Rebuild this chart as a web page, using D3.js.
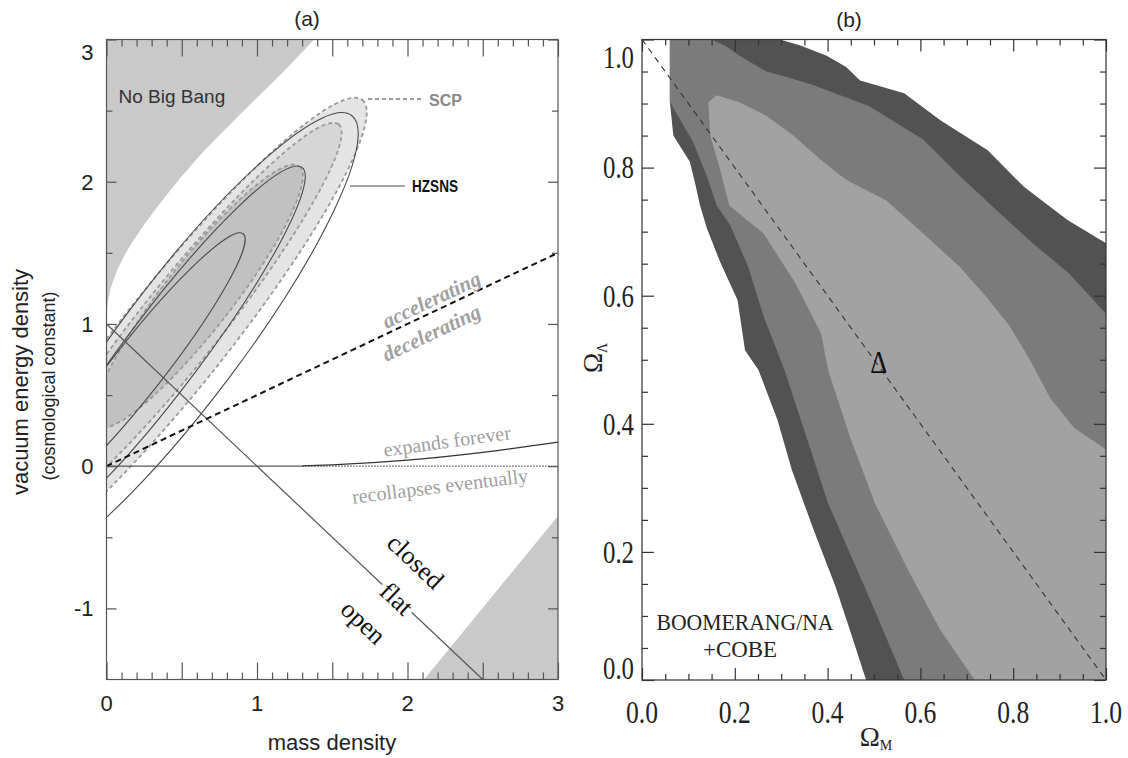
<!DOCTYPE html>
<html>
<head>
<meta charset="utf-8">
<script src="https://cdn.jsdelivr.net/npm/d3@7"></script>
<style>
  body { margin: 0; background: #fff; }
</style>
</head>
<body>
<script>
// ---- panel (a): supernova constraints ----
var aXTicks = [0, 1, 2, 3];
var aYTicks = [-1, 0, 1, 2, 3];
var noBigBang = [[0, 1.08], [0.02, 1.21], [0.05, 1.32], [0.1, 1.44], [0.2, 1.62], [0.3, 1.77],
                 [0.44, 1.96], [0.6, 2.16], [0.8, 2.38], [1.0, 2.59], [1.2, 2.8], [1.38, 3.0]];
var recollapseZone = [[2.11, -1.5], [3, -0.35], [3, -1.5]];
var flatLine = [[0, 1], [2.5, -1.5]];
var accelLine = [[0, 0], [3, 1.5]];
var zeroSolid = [[0, 0], [1.3, 0]];
var zeroDotted = [[1.3, 0], [3, 0]];
var expandCurve = [[1.3, 0.002], [1.5, 0.009], [2.0, 0.042], [2.5, 0.097], [3.0, 0.169]];
// contours: [centre x, centre y, tip x, tip y, half width]
var scpContours = [[0.459, 0.924, 1.700, 2.575, 0.346],
                   [0.488, 1.001, 1.542, 2.404, 0.266],
                   [0.607, 1.193, 1.282, 2.108, 0.226]];
var hzsnsContours = [[0.488, 0.864, 1.629, 2.466, 0.399],
                     [0.379, 0.807, 1.299, 2.101, 0.252],
                     [0.212, 0.693, 0.908, 1.634, 0.173]];

// ---- panel (b): BOOMERANG ----
var bTicks = [0.0, 0.2, 0.4, 0.6, 0.8, 1.0];
var bOuter = [[0.06, 1.0], [0.297, 1.0], [0.34, 0.991], [0.397, 0.975], [0.44, 0.957], [0.47, 0.936],
              [0.565, 0.916], [0.643, 0.874], [0.745, 0.827], [0.823, 0.77], [0.917, 0.718], [1.0, 0.682],
              [1.0, 0.0], [0.483, 0.0], [0.448, 0.078], [0.417, 0.146], [0.37, 0.234], [0.323, 0.328],
              [0.292, 0.406], [0.251, 0.484], [0.222, 0.515], [0.206, 0.593], [0.167, 0.655], [0.14, 0.705],
              [0.125, 0.741], [0.114, 0.777], [0.103, 0.809], [0.0675, 0.85], [0.06, 0.903]];
var bMiddle = [[0.06, 1.0], [0.15, 1.0], [0.18, 0.99], [0.21, 0.975], [0.268, 0.95], [0.319, 0.94],
               [0.369, 0.929], [0.427, 0.913], [0.489, 0.896], [0.606, 0.844], [0.685, 0.787], [0.763, 0.734],
               [0.842, 0.682], [0.92, 0.635], [1.0, 0.572], [1.0, 0.0], [0.565, 0.0], [0.495, 0.12],
               [0.448, 0.198], [0.401, 0.276], [0.354, 0.38], [0.307, 0.484], [0.262, 0.568], [0.229, 0.645],
               [0.19, 0.71], [0.161, 0.741], [0.139, 0.788], [0.11, 0.84], [0.06, 0.903]];
var bInner = [[0.161, 0.913], [0.21, 0.902], [0.268, 0.881], [0.326, 0.85], [0.384, 0.813], [0.427, 0.788],
              [0.45, 0.777], [0.526, 0.749], [0.606, 0.697], [0.685, 0.645], [0.74, 0.6], [0.79, 0.555],
              [0.836, 0.5], [0.88, 0.44], [0.931, 0.394], [1.0, 0.36], [1.0, 0.0], [0.717, 0.0],
              [0.643, 0.078], [0.573, 0.172], [0.502, 0.276], [0.448, 0.38], [0.401, 0.484], [0.386, 0.541],
              [0.331, 0.619], [0.262, 0.697], [0.188, 0.741], [0.168, 0.798], [0.147, 0.85], [0.143, 0.902]];
var bFlat = [[0, 1], [1, 0]];
var bBest = [0.51, 0.497];

var sans = "'Liberation Sans', Arial, Helvetica, sans-serif";
var serif = "'Liberation Serif', 'Times New Roman', serif";

var svg = d3.select("body").append("svg")
            .attr("width", 1128)
            .attr("height", 758);

// ================= panel (a) =================
var xa = d3.scaleLinear().domain([0, 3]).range([106.5, 558]);
var ya = d3.scaleLinear().domain([-1.5, 3]).range([679.5, 39.5]);
var lineA = d3.line().x(function(d) { return xa(d[0]); }).y(function(d) { return ya(d[1]); });

svg.append("clipPath").attr("id", "clipA")
   .append("rect")
   .attr("x", xa(0)).attr("y", ya(3))
   .attr("width", xa(3) - xa(0)).attr("height", ya(-1.5) - ya(3));

var ga = svg.append("g").attr("clip-path", "url(#clipA)");

// forbidden / recollapse shaded zones
ga.append("path")
  .attr("d", lineA.curve(d3.curveMonotoneX)(noBigBang) + "L" + xa(0) + "," + ya(3) + "Z")
  .attr("fill", "#c9c9c9");
lineA.curve(d3.curveLinear);
ga.append("path")
  .attr("d", lineA(recollapseZone) + "Z")
  .attr("fill", "#c9c9c9");

function drawContour(g, e) {
  var cx = xa(e[0]), cy = ya(e[1]), tx = xa(e[2]), ty = ya(e[3]);
  var ang = Math.atan2(ty - cy, tx - cx) * 180 / Math.PI;
  return g.append("ellipse")
          .attr("cx", cx).attr("cy", cy)
          .attr("rx", Math.hypot(tx - cx, ty - cy))
          .attr("ry", xa(e[4]) - xa(0))
          .attr("transform", "rotate(" + ang + "," + cx + "," + cy + ")");
}

var scpFills = ["#e4e4e4", "#d6d6d6", "#c1c1c1"];
scpContours.forEach(function(e, i) {
  drawContour(ga, e)
    .attr("fill", scpFills[i])
    .attr("stroke", "#9a9a9a")
    .attr("stroke-width", 1.8)
    .attr("stroke-dasharray", "4,3");
});
hzsnsContours.forEach(function(e) {
  drawContour(ga, e)
    .attr("fill", "none")
    .attr("stroke", "#4a4a4a")
    .attr("stroke-width", 1.1);
});

// reference lines
ga.append("path").attr("d", lineA(flatLine))
  .attr("fill", "none").attr("stroke", "#555").attr("stroke-width", 1.2);
ga.append("path").attr("d", lineA(zeroSolid))
  .attr("fill", "none").attr("stroke", "#555").attr("stroke-width", 1.2);
ga.append("path").attr("d", lineA(zeroDotted))
  .attr("fill", "none").attr("stroke", "#555").attr("stroke-width", 1.2)
  .attr("stroke-dasharray", "1.5,1.5");
ga.append("path").attr("d", lineA.curve(d3.curveMonotoneX)(expandCurve))
  .attr("fill", "none").attr("stroke", "#333").attr("stroke-width", 1.3);
lineA.curve(d3.curveLinear);
ga.append("path").attr("d", lineA(accelLine))
  .attr("fill", "none").attr("stroke", "#111").attr("stroke-width", 2)
  .attr("stroke-dasharray", "6,4");

// frame and ticks
svg.append("rect")
   .attr("x", xa(0)).attr("y", ya(3))
   .attr("width", xa(3) - xa(0)).attr("height", ya(-1.5) - ya(3))
   .attr("fill", "none").attr("stroke", "#555").attr("stroke-width", 1.2);

function ticksA(axis, values, size, tr) {
  var g = svg.append("g").attr("transform", tr)
             .call(axis.tickValues(values).tickSizeInner(size).tickSizeOuter(0).tickFormat(""));
  g.select(".domain").remove();
  g.selectAll("line").attr("stroke", "#555").attr("stroke-width", 1.2);
}
var xMinorA = d3.range(0, 3.001, 0.1).filter(function(v) { return Math.abs(v * 2 - Math.round(v * 2)) > 1e-6; });
var xMajorA = d3.range(0, 3.001, 0.5);
ticksA(d3.axisBottom(xa), xMinorA, -7, "translate(0," + ya(-1.5) + ")");
ticksA(d3.axisBottom(xa), xMajorA, -17, "translate(0," + ya(-1.5) + ")");
ticksA(d3.axisTop(xa), xMinorA, -7, "translate(0," + ya(3) + ")");
ticksA(d3.axisTop(xa), xMajorA, -17, "translate(0," + ya(3) + ")");
ticksA(d3.axisLeft(ya), [-0.5, 0.5, 1.5, 2.5], -6, "translate(" + xa(0) + ",0)");
ticksA(d3.axisLeft(ya), aYTicks, -10, "translate(" + xa(0) + ",0)");
ticksA(d3.axisRight(ya), [-0.5, 0.5, 1.5, 2.5], -6, "translate(" + xa(3) + ",0)");
ticksA(d3.axisRight(ya), aYTicks, -10, "translate(" + xa(3) + ",0)");

// tick labels
svg.append("g").selectAll("text").data(aXTicks).enter().append("text")
   .attr("x", function(d) { return xa(d); })
   .attr("y", ya(-1.5) + 31)
   .attr("text-anchor", "middle")
   .attr("font-family", sans).attr("font-size", 22).attr("fill", "#222")
   .text(function(d) { return d; });
svg.append("g").selectAll("text").data(aYTicks).enter().append("text")
   .attr("x", xa(0) - 13)
   .attr("y", function(d) { return ya(d) + (d === 3 ? 13 : 0); })
   .attr("dy", "0.36em")
   .attr("text-anchor", "end")
   .attr("font-family", sans).attr("font-size", 22).attr("fill", "#222")
   .text(function(d) { return d; });

svg.append("text").attr("x", 332).attr("y", 750)
   .attr("text-anchor", "middle").attr("font-family", sans).attr("font-size", 22).attr("fill", "#222")
   .text("mass density");
svg.append("text").attr("transform", "translate(28,382) rotate(-90)")
   .attr("text-anchor", "middle").attr("font-family", sans).attr("font-size", 22).attr("fill", "#222")
   .text("vacuum energy density");
svg.append("text").attr("transform", "translate(55,386) rotate(-90)")
   .attr("text-anchor", "middle").attr("font-family", sans).attr("font-size", 18).attr("fill", "#222")
   .text("(cosmological constant)");
svg.append("text").attr("x", 307).attr("y", 26)
   .attr("text-anchor", "middle").attr("font-family", sans).attr("font-size", 21).attr("fill", "#222")
   .text("(a)");

// annotations
svg.append("text").attr("x", xa(0.08)).attr("y", ya(2.6) + 7)
   .attr("font-family", sans).attr("font-size", 19).attr("fill", "#333")
   .text("No Big Bang");

svg.append("line").attr("x1", 368).attr("y1", 99).attr("x2", 424).attr("y2", 99)
   .attr("stroke", "#9a9a9a").attr("stroke-width", 1.8).attr("stroke-dasharray", "4,3");
svg.append("text").attr("x", 429).attr("y", 106)
   .attr("font-family", sans).attr("font-weight", "bold").attr("font-size", 16).attr("fill", "#888")
   .attr("textLength", 33).attr("lengthAdjust", "spacingAndGlyphs")
   .text("SCP");
svg.append("line").attr("x1", 350).attr("y1", 186).attr("x2", 405).attr("y2", 186)
   .attr("stroke", "#4a4a4a").attr("stroke-width", 1.1);
svg.append("text").attr("x", 412).attr("y", 192)
   .attr("font-family", sans).attr("font-weight", "bold").attr("font-size", 16).attr("fill", "#111")
   .attr("textLength", 46).attr("lengthAdjust", "spacingAndGlyphs")
   .text("HZSNS");

function alongLine(p0, p1, at, texts, style) {
  var ang = Math.atan2(ya(p1[1]) - ya(p0[1]), xa(p1[0]) - xa(p0[0])) * 180 / Math.PI;
  var t = (at - p0[0]) / (p1[0] - p0[0]);
  var px = xa(at), py = ya(p0[1] + t * (p1[1] - p0[1]));
  var g = svg.append("g").attr("transform", "translate(" + px + "," + py + ") rotate(" + ang + ")");
  texts.forEach(function(tt) {
    var el = g.append("text").attr("x", tt[1]).attr("y", tt[2])
              .attr("text-anchor", "middle").attr("dy", "0.35em")
              .attr("font-family", serif).attr("font-size", style.size)
              .attr("fill", style.fill).text(tt[0]);
    if (style.italic) el.attr("font-style", "italic").attr("font-weight", "bold");
    if (tt[3]) el.attr("stroke", "#fff").attr("stroke-width", 7).attr("paint-order", "stroke");
  });
}
alongLine(accelLine[0], accelLine[1], 2.156,
          [["accelerating", 6, -12], ["decelerating", -8, 18]],
          {size: 21, fill: "#a0a0a0", italic: true});
alongLine(flatLine[0], flatLine[1], 1.93,
          [["closed", -12, -40], ["flat", 0, 0, true], ["open", -8, 40]],
          {size: 26, fill: "#111"});

svg.append("text").attr("transform", "translate(447,441) rotate(-8)")
   .attr("text-anchor", "middle").attr("dy", "0.35em")
   .attr("font-family", serif).attr("font-size", 20).attr("fill", "#a0a0a0")
   .text("expands forever");
svg.append("text").attr("transform", "translate(440,486) rotate(-7)")
   .attr("text-anchor", "middle").attr("dy", "0.35em")
   .attr("font-family", serif).attr("font-size", 20).attr("fill", "#a0a0a0")
   .text("recollapses eventually");

// ================= panel (b) =================
var xb = d3.scaleLinear().domain([0, 1]).range([642, 1106]);
var yb = d3.scaleLinear().domain([0, 1]).range([680, 39.5]);
var lineB = d3.line().x(function(d) { return xb(d[0]); }).y(function(d) { return yb(d[1]); });

svg.append("clipPath").attr("id", "clipB")
   .append("rect")
   .attr("x", xb(0)).attr("y", yb(1))
   .attr("width", xb(1) - xb(0)).attr("height", yb(0) - yb(1));
var gb = svg.append("g").attr("clip-path", "url(#clipB)");

var bRegions = [bOuter, bMiddle, bInner];
var bFills = ["#525252", "#7b7b7b", "#a2a2a2"];
bRegions.forEach(function(r, i) {
  gb.append("path").attr("d", lineB(r) + "Z").attr("fill", bFills[i]);
});
gb.append("path").attr("d", lineB(bFlat))
  .attr("fill", "none").attr("stroke", "#333").attr("stroke-width", 1.1)
  .attr("stroke-dasharray", "6,5");

svg.append("text")
   .attr("x", xb(bBest[0])).attr("y", yb(bBest[1]))
   .attr("dy", "0.36em").attr("text-anchor", "middle")
   .attr("font-family", serif).attr("font-size", 32).attr("fill", "#111")
   .attr("textLength", 17).attr("lengthAdjust", "spacingAndGlyphs")
   .text("\u0394");

svg.append("rect")
   .attr("x", xb(0)).attr("y", yb(1))
   .attr("width", xb(1) - xb(0)).attr("height", yb(0) - yb(1))
   .attr("fill", "none").attr("stroke", "#333").attr("stroke-width", 1.2);

function ticksB(axis, values, size, tr) {
  var g = svg.append("g").attr("transform", tr)
             .call(axis.tickValues(values).tickSizeInner(size).tickSizeOuter(0).tickFormat(""));
  g.select(".domain").remove();
  g.selectAll("line").attr("stroke", "#333").attr("stroke-width", 1.2);
}
var bMinor = d3.range(0, 1.0001, 0.05).filter(function(v) { return Math.abs(v * 5 - Math.round(v * 5)) > 1e-6; });
ticksB(d3.axisBottom(xb), bMinor, -6, "translate(0," + yb(0) + ")");
ticksB(d3.axisBottom(xb), bTicks, -12, "translate(0," + yb(0) + ")");
ticksB(d3.axisTop(xb), bMinor, -6, "translate(0," + yb(1) + ")");
ticksB(d3.axisTop(xb), bTicks, -12, "translate(0," + yb(1) + ")");
ticksB(d3.axisLeft(yb), bMinor, -6, "translate(" + xb(0) + ",0)");
ticksB(d3.axisLeft(yb), bTicks, -12, "translate(" + xb(0) + ",0)");
ticksB(d3.axisRight(yb), bMinor, -6, "translate(" + xb(1) + ",0)");
ticksB(d3.axisRight(yb), bTicks, -12, "translate(" + xb(1) + ",0)");

var fmt = d3.format(".1f");
svg.append("g").selectAll("text").data(bTicks).enter().append("text")
   .attr("x", function(d) { return xb(d); })
   .attr("y", yb(0) + 43)
   .attr("text-anchor", "middle")
   .attr("font-family", serif).attr("font-size", 31).attr("fill", "#222")
   .attr("textLength", 32).attr("lengthAdjust", "spacingAndGlyphs")
   .text(function(d) { return fmt(d); });
svg.append("g").selectAll("text").data(bTicks).enter().append("text")
   .attr("x", xb(0) - 8)
   .attr("y", function(d) { return yb(d) + (d === 1 ? 18 : d === 0 ? -12 : 0); })
   .attr("dy", "0.35em")
   .attr("text-anchor", "end")
   .attr("font-family", serif).attr("font-size", 31).attr("fill", "#222")
   .attr("textLength", 31).attr("lengthAdjust", "spacingAndGlyphs")
   .text(function(d) { return fmt(d); });

var omM = svg.append("text").attr("x", 876).attr("y", 746)
             .attr("text-anchor", "middle").attr("font-family", serif).attr("fill", "#222");
omM.append("tspan").attr("font-size", 27).text("\u03a9");
omM.append("tspan").attr("font-size", 14).attr("dy", 4).text("M");
var omL = svg.append("text").attr("transform", "translate(602,358) rotate(-90)")
             .attr("text-anchor", "middle").attr("font-family", serif).attr("fill", "#222");
omL.append("tspan").attr("font-size", 27).text("\u03a9");
omL.append("tspan").attr("font-size", 14).attr("dy", 5).text("\u039b");

svg.append("text").attr("x", 849).attr("y", 27)
   .attr("text-anchor", "middle").attr("font-family", sans).attr("font-size", 21).attr("fill", "#222")
   .text("(b)");

svg.append("text").attr("x", 745).attr("y", 630)
   .attr("text-anchor", "middle").attr("font-family", serif).attr("font-size", 24).attr("fill", "#222")
   .attr("textLength", 177).attr("lengthAdjust", "spacingAndGlyphs")
   .text("BOOMERANG/NA");
svg.append("text").attr("x", 740).attr("y", 657)
   .attr("text-anchor", "middle").attr("font-family", serif).attr("font-size", 24).attr("fill", "#222")
   .attr("textLength", 74).attr("lengthAdjust", "spacingAndGlyphs")
   .text("+COBE");
</script>
</body>
</html>
